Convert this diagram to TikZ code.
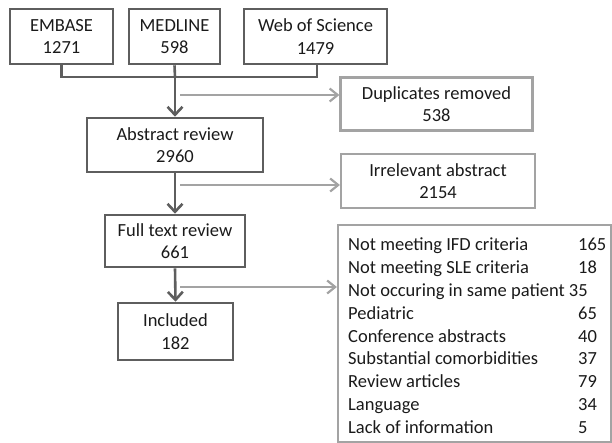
\documentclass[tikz,border=0pt]{standalone}
\usepackage{fontspec}
\setmainfont{Carlito}
\usetikzlibrary{arrows.meta}
\definecolor{dk}{HTML}{5E5E5E}
\definecolor{lt}{HTML}{A3A3A3}
\definecolor{tx}{HTML}{1A1A1A}
\begin{document}
\begin{tikzpicture}[x=1pt,y=-1pt,
  every node/.style={text=tx,font=\fontsize{18.5}{22.5}\selectfont},
  mainbox/.style={draw=dk,line width=2.6pt,align=center,inner sep=0pt},
  sidebox/.style={draw=lt,line width=2.2pt,align=center,inner sep=0pt},
  mainarrow/.style={draw=dk,line width=2.6pt,-{Straight Barb[length=8pt,width=15pt,line width=2.6pt]}},
  sidearrow/.style={draw=lt,line width=2.2pt,-{Straight Barb[length=8pt,width=13pt,line width=2.2pt]}},
  mainline/.style={draw=dk,line width=2.6pt},
  rowtext/.style={anchor=base west,inner sep=0pt}]
\useasboundingbox (0,0) rectangle (612,443);
% sources
\node[mainbox,minimum width=103pt,minimum height=55pt] (emb) at (61.5,36.5) {EMBASE\\1271};
\node[mainbox,minimum width=91pt,minimum height=55pt] (med) at (174.5,36.5) {MEDLINE\\598};
\node[mainbox,minimum width=143pt,minimum height=55pt] (wos) at (315.5,36.5) {Web of Science\\1479};
% main flow
\node[mainbox,minimum width=176pt,minimum height=54pt] (abs) at (175,145) {Abstract review\\2960};
\node[mainbox,minimum width=140pt,minimum height=52pt] (full) at (175,241) {Full text review\\661};
\node[mainbox,minimum width=115pt,minimum height=57pt] (inc) at (175.5,331.5) {Included\\182};
% side boxes
\node[sidebox,minimum width=192pt,minimum height=53pt] (dup) at (436.5,104) {Duplicates removed\\538};
\node[sidebox,minimum width=194pt,minimum height=54pt] (irr) at (438,181) {Irrelevant abstract\\2154};
\node[sidebox,minimum width=273pt,minimum height=217pt] (lst) at (474.5,333.5) {};
% list rows
\node[rowtext] (r1) at (348,251) {Not meeting IFD criteria};
\node[rowtext] (n1) at (578,251) {165};
\node[rowtext] (r2) at (348,273.75) {Not meeting SLE criteria};
\node[rowtext] (n2) at (578,273.75) {18};
\node[rowtext] (r3) at (348,296.5) {Not occuring in same patient 35};
\node[rowtext] (r4) at (348,319.25) {Pediatric};
\node[rowtext] (n4) at (578,319.25) {65};
\node[rowtext] (r5) at (348,342) {Conference abstracts};
\node[rowtext] (n5) at (578,342) {40};
\node[rowtext] (r6) at (348,364.75) {Substantial comorbidities};
\node[rowtext] (n6) at (578,364.75) {37};
\node[rowtext] (r7) at (348,387.5) {Review articles};
\node[rowtext] (n7) at (578,387.5) {79};
\node[rowtext] (r8) at (348,410.25) {Language};
\node[rowtext] (n8) at (578,410.25) {34};
\node[rowtext] (r9) at (348,433) {Lack of information};
\node[rowtext] (n9) at (578,433) {5};
% bus
\coordinate (bl) at (61.5,77);
\coordinate (bm) at (175,77);
\coordinate (br) at (317,77);
\draw[mainline] (emb.south) -- (bl) -- (br) -- (br |- wos.south);
\draw[mainline] (med.south) -- (bm);
\draw[mainarrow] (bm) -- (abs.north);
\draw[mainarrow] (abs.south) -- (full.north);
\draw[mainarrow] (full.south) -- (inc.north);
% side arrows
\coordinate (s1) at (180,95);
\coordinate (s2) at (180,185);
\coordinate (s3) at (180,287);
\draw[sidearrow] (s1) -- (s1 -| dup.west);
\draw[sidearrow] (s2) -- (s2 -| irr.west);
\draw[sidearrow] (s3) -- (s3 -| lst.west);
\end{tikzpicture}
\end{document}
